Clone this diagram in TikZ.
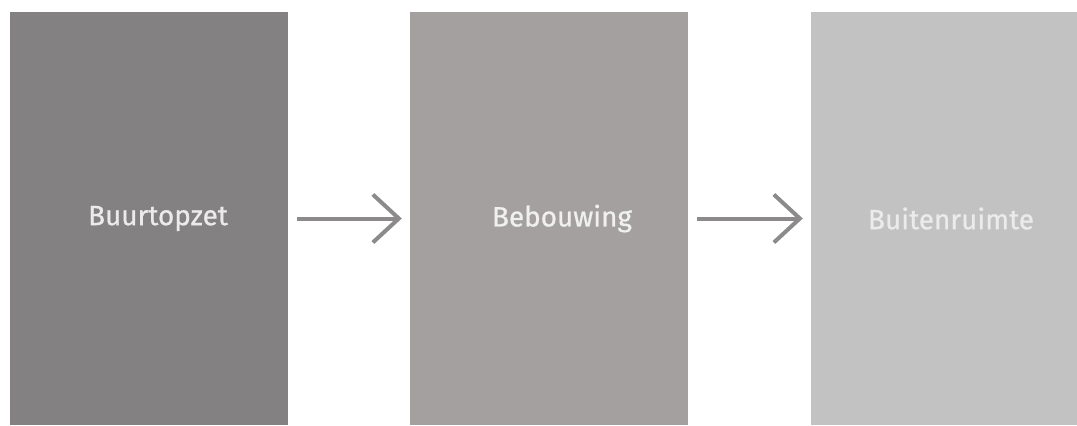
\documentclass[tikz,border=0pt]{standalone}
\usepackage{fontspec}
\setmainfont{Fira Sans}
\newfontfamily\panelfont[FakeBold=0.8]{Fira Sans}
\usetikzlibrary{arrows.meta,positioning}
\definecolor{stepone}{HTML}{838181}
\definecolor{steptwo}{HTML}{A3A09F}
\definecolor{stepthree}{HTML}{C2C2C2}
\definecolor{arrowgray}{HTML}{8C8A8A}

\begin{document}
\begin{tikzpicture}[x=1bp,y=1bp]
    \tikzset{panel/.style={rectangle,minimum width=278bp,minimum height=413bp,inner sep=0pt},
             caption/.style={inner sep=0pt,font=\panelfont\fontsize{28}{32}\selectfont},
             flow/.style={arrowgray,line width=4bp,-{Straight Barb[length=26bp,width=48bp,line width=4bp]},shorten <=9bp,shorten >=8bp}}
    \useasboundingbox (0,0) rectangle (1077,425);
    \node[panel,fill=stepone] (buurt) at (149,206.5) {};
    \node[panel,fill=steptwo] (bebouw) at (549,206.5) {};
    \node[panel,fill=stepthree,minimum width=266bp] (buiten) at (944,206.5) {};

    \node[caption,text=white!92!black] (buurttext) at ([xshift=9bp]buurt.center) {Buurtopzet};
    \node[caption,text=white!94!black] (bebouwtext) at ([xshift=13bp]bebouw.center) {Bebouwing};
    \node[caption,text=white!92!black] (buitentext) at ([xshift=7bp]buiten.center) {Buitenruimte};

    \foreach \from/\to in {buurt/bebouw,bebouw/buiten}
    \draw[flow] (\from) -- (\to);
\end{tikzpicture}
\end{document}
